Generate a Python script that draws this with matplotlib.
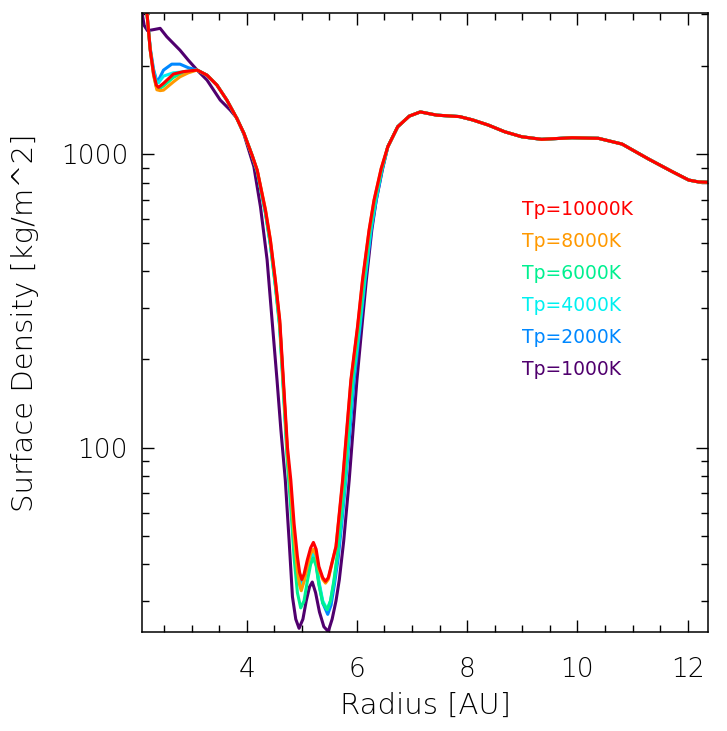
import matplotlib
matplotlib.use("Agg")
import matplotlib.pyplot as plt
import matplotlib.ticker as ticker

plt.rcParams['font.family'] = ['DejaVu Sans']
plt.rcParams['font.weight'] = 'light'
plt.rcParams['axes.labelweight'] = 'light'

# ---- data (radius in AU, surface density in kg/m^2) ----
labels = ["Tp=10000K", "Tp=8000K", "Tp=6000K", "Tp=4000K", "Tp=2000K", "Tp=1000K"]
colors = ["#ff0000", "#ff9900", "#00f090", "#00f0f0", "#0088ff", "#50006e"]

# part shared by all the curves, outside of the gap
outer_r = [6.56, 6.74, 6.95, 7.15, 7.45, 7.86, 8.10, 8.38, 8.68, 8.99, 9.35,
           9.90, 10.38, 10.81, 11.29, 11.72, 12.02, 12.20, 12.37]
outer_s = [1061, 1242, 1350, 1395, 1360, 1345, 1310, 1259, 1194, 1148, 1125,
           1139, 1134, 1084, 964, 873, 817, 805, 803]

# inner disk, 3.1 - 4.1 AU, same for the hotter runs
mid_r = [3.10, 3.28, 3.46, 3.64, 3.82, 3.95, 4.10]
mid_s = [1938, 1862, 1722, 1531, 1327, 1179, 990]

# Tp=10000K
red_left_r = [2.10, 2.19, 2.25, 2.31, 2.36, 2.40, 2.49, 2.67, 2.85]
red_left_s = [4000, 3030, 2265, 1888, 1722, 1692, 1746, 1878, 1914]
red_gap_r = [4.19, 4.34, 4.43, 4.52, 4.60, 4.67, 4.74, 4.80, 4.86, 4.92, 4.96, 5.00,
             5.04, 5.10, 5.16, 5.21, 5.26, 5.31, 5.38, 5.43, 5.48, 5.53, 5.62, 5.68,
             5.74, 5.89, 6.01, 6.10, 6.22, 6.31, 6.44]
red_gap_s = [884, 645, 510, 372, 272, 165, 100, 77.6, 55, 42.5, 37.5, 35.5,
             37, 41.4, 45.5, 47.5, 45, 39.3, 36, 35, 36, 39.3, 46, 59.7,
             77.6, 170, 258, 372, 552, 698, 895]

# Tp=8000K
orange_left_r = [2.10, 2.19, 2.25, 2.31, 2.37, 2.43, 2.49, 2.67, 2.79, 2.94]
orange_left_s = [4000, 3030, 2265, 1860, 1660, 1649, 1655, 1766, 1838, 1896]
orange_gap_r = [4.19, 4.34, 4.43, 4.52, 4.60, 4.67, 4.74, 4.80, 4.86, 4.92, 4.96, 4.99,
                5.04, 5.10, 5.16, 5.21, 5.26, 5.31, 5.38, 5.43, 5.48, 5.53, 5.62, 5.68,
                5.74, 5.89, 6.01, 6.10, 6.22, 6.31, 6.44]
orange_gap_s = [884, 650, 510, 372, 268, 160, 96, 72, 50, 38, 34, 32.5,
                35, 39.5, 43.5, 45, 43, 38.5, 35.5, 34.5, 35.5, 39, 46, 59,
                76, 168, 255, 368, 548, 695, 893]

# Tp=6000K
green_left_r = [2.10, 2.19, 2.25, 2.31, 2.36, 2.41, 2.49, 2.67, 2.85]
green_left_s = [4000, 3030, 2265, 1875, 1700, 1670, 1710, 1830, 1905]
green_gap_r = [4.19, 4.34, 4.43, 4.52, 4.60, 4.67, 4.74, 4.80, 4.86, 4.92, 4.98,
               5.04, 5.10, 5.16, 5.21, 5.26, 5.31, 5.38, 5.46, 5.52, 5.58, 5.65,
               5.71, 5.78, 5.92, 6.04, 6.13, 6.24, 6.33, 6.45]
green_gap_s = [875, 630, 490, 355, 255, 150, 88, 62, 42, 32, 28.4,
               30, 35, 40, 42, 39.5, 34, 29.5, 28, 30, 35, 44,
               57, 78, 170, 260, 372, 552, 698, 890]

# Tp=4000K
cyan_left_r = [2.10, 2.19, 2.25, 2.31, 2.36, 2.40, 2.49, 2.67, 2.79, 2.94]
cyan_left_s = [4000, 3030, 2280, 1920, 1770, 1754, 1848, 1897, 1906, 1925]
cyan_gap_r = [4.19, 4.34, 4.43, 4.52, 4.60, 4.67, 4.74, 4.80, 4.86, 4.92, 4.99,
              5.04, 5.10, 5.16, 5.21, 5.26, 5.31, 5.38, 5.46, 5.52, 5.58, 5.65,
              5.71, 5.79, 5.93, 6.05, 6.14, 6.25, 6.34, 6.45]
cyan_gap_s = [878, 635, 495, 360, 260, 155, 92, 68, 47, 37, 33.5,
              35, 39, 42.5, 43.5, 40.5, 35, 30, 28, 30, 34.5, 43,
              55, 78, 170, 260, 372, 552, 698, 890]

# Tp=2000K
blue_left_r = [2.10, 2.19, 2.25, 2.31, 2.36, 2.40, 2.49, 2.64, 2.79, 2.94]
blue_left_s = [4000, 3030, 2300, 1950, 1800, 1791, 1937, 2030, 2030, 1974]
blue_gap_r = [4.19, 4.34, 4.43, 4.52, 4.60, 4.67, 4.74, 4.80, 4.86, 4.92, 4.99,
              5.04, 5.10, 5.16, 5.21, 5.26, 5.31, 5.38, 5.47, 5.53, 5.59, 5.66,
              5.72, 5.80, 5.95, 6.06, 6.15, 6.26, 6.35, 6.46]
blue_gap_s = [878, 635, 495, 360, 262, 157, 94, 70, 48, 38, 34.5,
              35.5, 39, 42, 43, 40, 34.5, 29.5, 27, 29, 34, 42,
              54, 78, 170, 260, 372, 552, 698, 890]

# Tp=1000K
purple_r = [2.10, 2.14, 2.20, 2.30, 2.43, 2.55, 2.67, 2.79, 2.94, 3.10, 3.28, 3.52,
            3.70, 3.82, 3.95, 4.13, 4.25, 4.37, 4.46, 4.55, 4.62, 4.70, 4.77, 4.83,
            4.89, 4.95, 5.02, 5.08, 5.14, 5.19, 5.25, 5.32, 5.40, 5.48, 5.55, 5.62,
            5.68, 5.76, 5.86, 6.00, 6.09, 6.17, 6.27, 6.35, 6.46]
purple_s = [3050, 2750, 2640, 2660, 2689, 2518, 2388, 2265, 2095, 1938, 1791, 1531,
            1416, 1330, 1170, 908, 662, 437, 272, 170, 115, 77.6, 48, 31,
            26, 24.2, 26, 30, 33.5, 34.8, 32, 27.5, 24.5, 23.6, 26, 30,
            35.4, 48, 77.6, 170, 258, 372, 552, 698, 884]

series = [
    (red_left_r + mid_r + red_gap_r + outer_r, red_left_s + mid_s + red_gap_s + outer_s),
    (orange_left_r + mid_r + orange_gap_r + outer_r, orange_left_s + mid_s + orange_gap_s + outer_s),
    (green_left_r + mid_r + green_gap_r + outer_r, green_left_s + mid_s + green_gap_s + outer_s),
    (cyan_left_r + mid_r + cyan_gap_r + outer_r, cyan_left_s + mid_s + cyan_gap_s + outer_s),
    (blue_left_r + mid_r + blue_gap_r + outer_r, blue_left_s + mid_s + blue_gap_s + outer_s),
    (purple_r + outer_r, purple_s + outer_s),
]

fig = plt.figure(figsize=(7.27, 7.31), dpi=100)
ax = fig.add_axes([0.1953, 0.1354, 0.7786, 0.8472])

# draw coolest first so the hot run ends up on top
for (r, s), c in reversed(list(zip(series, colors))):
    ax.plot(r, s, color=c, lw=2.2, solid_joinstyle='round')

ax.set_yscale('log')
ax.set_xlim(2.10, 12.37)
ax.set_ylim(23.5, 3040)

ax.xaxis.set_major_locator(ticker.MultipleLocator(2))
ax.xaxis.set_minor_locator(ticker.MultipleLocator(0.5))
ax.yaxis.set_major_locator(ticker.FixedLocator([100, 1000]))
ax.yaxis.set_major_formatter(ticker.FixedFormatter(['100', '1000']))
ax.yaxis.set_minor_locator(ticker.LogLocator(base=10, subs=range(2, 10)))
ax.yaxis.set_minor_formatter(ticker.NullFormatter())

ax.tick_params(which='both', direction='in', top=True, right=True, width=1.0,
               labelsize=19)
ax.tick_params(which='major', length=8.6)
ax.tick_params(which='minor', length=5)
ax.tick_params(axis='x', pad=18)
ax.tick_params(axis='y', pad=10)
for sp in ax.spines.values():
    sp.set_linewidth(1.1)

ax.set_xlabel('Radius [AU]', fontsize=21, fontweight='light', labelpad=7)
ax.set_ylabel('Surface Density [kg/m^2]', fontsize=21, fontweight='light',
              labelpad=15.5)

# legend as coloured text lines
for i, (lab, c) in enumerate(zip(labels, colors)):
    fig.text(0.7176, 0.714 - i * 0.0438, lab, color=c, fontsize=13.5,
             fontweight='normal', ha='left', va='center')

fig.savefig('out.png', dpi=100)
